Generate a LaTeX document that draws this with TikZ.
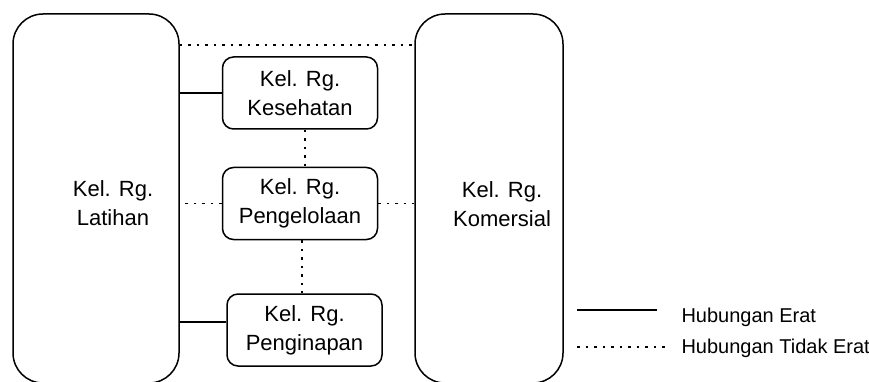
\documentclass[tikz,border=0pt]{standalone}
\usepackage{fontspec}
\setmainfont{Liberation Sans}
\usetikzlibrary{positioning}

\begin{document}
\begin{tikzpicture}[
  x=1pt, y=-1pt,
  bigbox/.style={draw, line width=1.5pt, rounded corners=30pt, minimum width=#1,
                 minimum height=369pt, inner sep=0pt},
  smallbox/.style={draw, line width=1.5pt, rounded corners=11pt, minimum width=155pt,
                   minimum height=72pt, align=center, font=\fontsize{22}{29}\selectfont},
  lbl/.style={font=\fontsize{22}{29}\selectfont, align=center},
  leg/.style={font=\fontsize{20}{24}\selectfont},
  erat/.style={line width=1.8pt},
  tdkerat/.style={line width=1.5pt, dash pattern=on 2.5pt off 6pt},
]
\useasboundingbox (0,0) rectangle (869,382);

% Large room groups
\node[bigbox=166pt, label={[lbl, xshift=17pt, yshift=-5pt]center:{Kel. Rg.\\Latihan}}]
  (lat) at (96,198.5) {};
\node[bigbox=148pt, label={[lbl, xshift=13pt, yshift=-6pt]center:{Kel. Rg.\\Komersial}}]
  (kom) at (489,198.5) {};

% Middle column
\node[smallbox] (kes) at (300,93) {Kel. Rg.\\Kesehatan};
\node[smallbox] (pen) at (300,203.5) {Kel. Rg.\\Pengelolaan};
\node[smallbox] (inap) at (304.5,330) {Kel. Rg.\\Penginapan};

% Relations
\coordinate (top) at (300,45);
\draw[tdkerat] (lat.east |- top) -- (kom.west |- top);
\draw[erat] (kes.west) -- (kes.west -| lat.east);
\draw[tdkerat] (pen.west) -- (pen.west -| lat.east);
\draw[tdkerat] (pen.east) -- (pen.east -| kom.west);
\draw[erat] ([yshift=8pt]inap.west) -- ([yshift=8pt]inap.west -| lat.east);
\draw[tdkerat] ([xshift=5pt]kes.south) -- ([xshift=5pt]kes.south |- pen.north);
\draw[tdkerat] ([xshift=2pt]pen.south) -- ([xshift=2pt]pen.south |- inap.north);

% Legend
\coordinate (e0) at (577,310);
\coordinate (e1) at (657,310);
\coordinate (t0) at (577,347);
\coordinate (t1) at (667,347);
\draw[erat] (e0) -- (e1);
\draw[tdkerat] (t0) -- (t1);
\node[leg, anchor=base west] (herat) at (678,322) {Hubungan Erat};
\node[leg, anchor=base west] (htdk) at (678,353) {Hubungan Tidak Erat};
\end{tikzpicture}
\end{document}
